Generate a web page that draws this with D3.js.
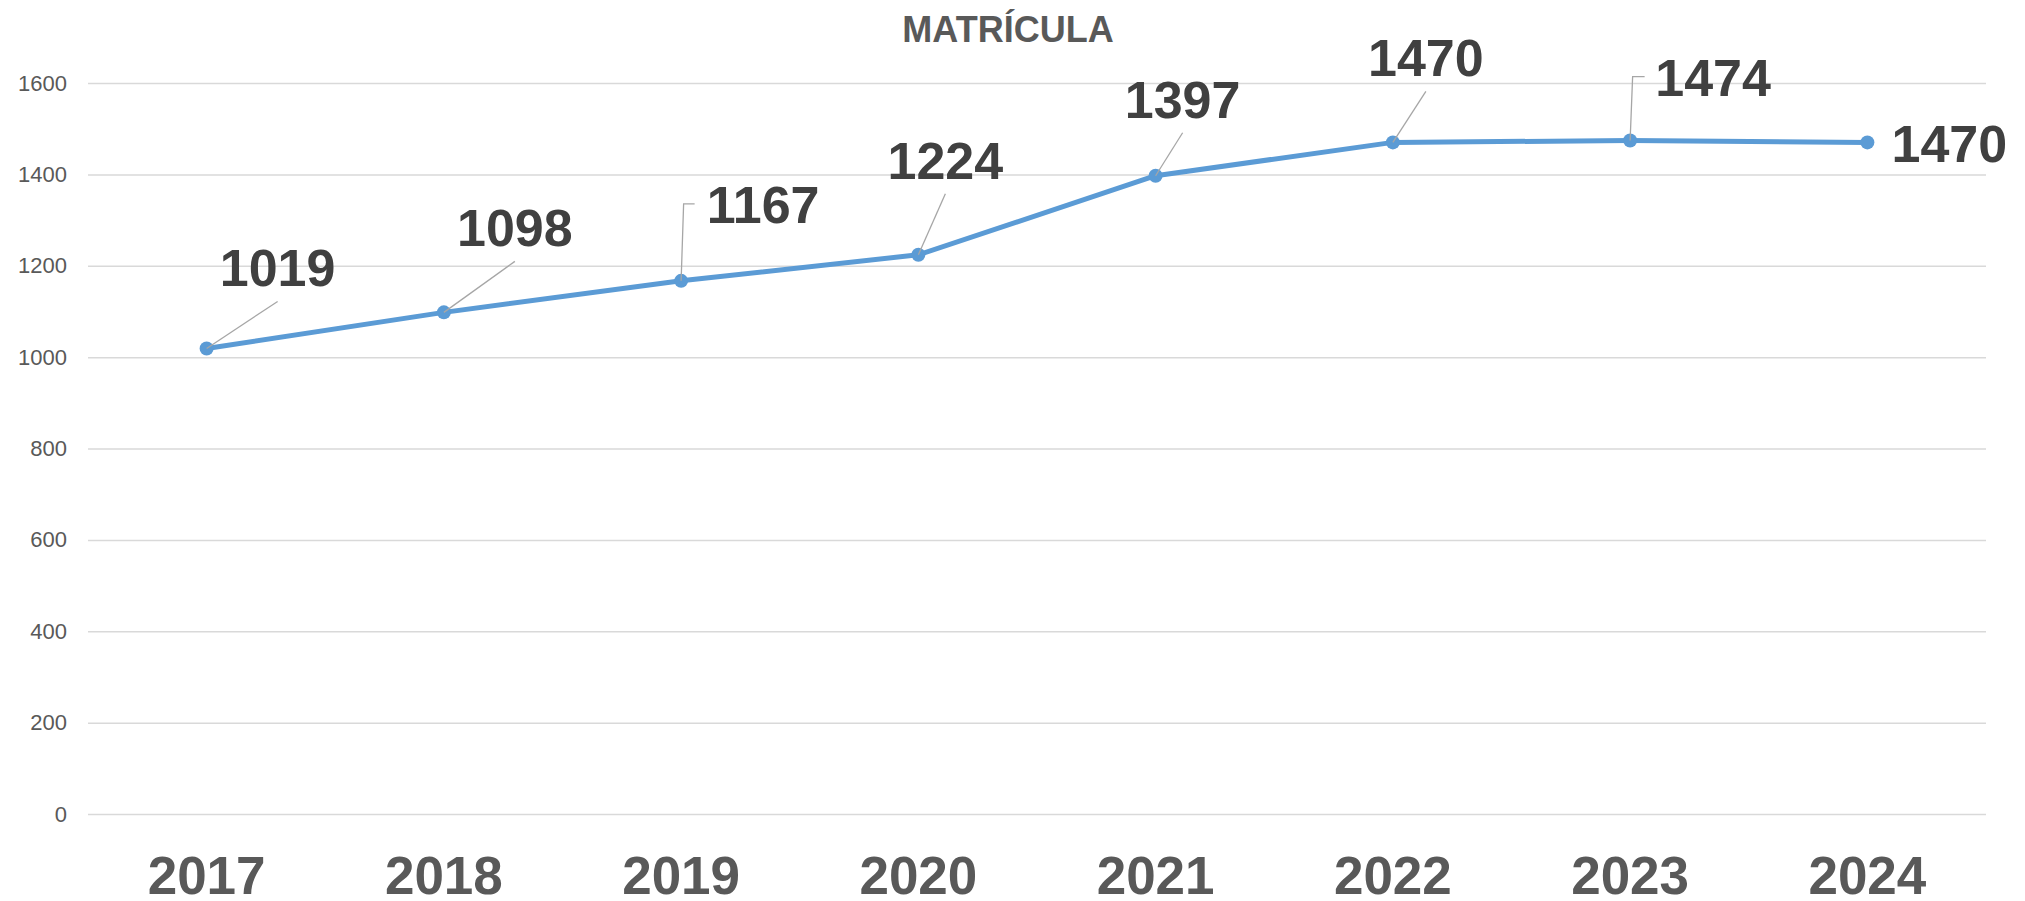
<!DOCTYPE html>
<html>
<head>
<meta charset="utf-8">
<script src="https://cdn.jsdelivr.net/npm/d3@7"></script>
<style>
  html, body { margin: 0; padding: 0; background: #fff; }
  svg { display: block; }
</style>
</head>
<body>
<div id="chart"></div>
<script>
const LINE_COLOR = "#5B9BD5";
const GRID_COLOR = "#D9D9D9";
const AXIS_TEXT = "#595959";
const LABEL_TEXT = "#404040";
const LEADER_COLOR = "#A6A6A6";

// data
const years = ["2017", "2018", "2019", "2020", "2021", "2022", "2023", "2024"];
const matricula = [1019, 1098, 1167, 1224, 1397, 1470, 1474, 1470];
const yTicks = [0, 200, 400, 600, 800, 1000, 1200, 1400, 1600];

// where excel put each data label, relative to its point (pixels)
// kind: "line" = straight leader, "elbow" = leader with a bend, "none"
const labelLayout = [
  { dx: 71, dy: -62, kind: "line" },
  { dx: 71, dy: -66, kind: "line" },
  { dx: 82, dy: -58, kind: "elbow" },
  { dx: 27, dy: -76, kind: "line" },
  { dx: 27, dy: -58, kind: "line" },
  { dx: 33, dy: -66, kind: "line" },
  { dx: 83, dy: -45, kind: "elbow" },
  { dx: 82, dy: 20, kind: "none" }
];

const width = 2025;
const height = 901;
const margin = { top: 83, right: 39, bottom: 87, left: 88 };

const svg = d3.select("#chart")
  .append("svg")
  .attr("width", width)
  .attr("height", height);

const x = d3.scaleBand()
  .domain(years)
  .range([margin.left, width - margin.right]);

const y = d3.scaleLinear()
  .domain([0, 1600])
  .range([height - margin.bottom, margin.top]);

const cx = (d, i) => x(years[i]) + x.bandwidth() / 2;
const cy = d => y(d);

// title
svg.append("text")
  .attr("x", 1008)
  .attr("y", 42)
  .attr("text-anchor", "middle")
  .attr("font-family", "Liberation Sans, Arial, sans-serif")
  .attr("font-weight", "bold")
  .attr("font-size", "36px")
  .attr("fill", AXIS_TEXT)
  .text("MATRÍCULA");

// gridlines + y labels
const yAxis = svg.append("g")
  .attr("transform", `translate(${margin.left},0)`)
  .call(d3.axisLeft(y)
    .tickValues(yTicks)
    .tickSize(-(width - margin.left - margin.right))
    .tickPadding(21)
    .tickFormat(d3.format("d")));

yAxis.select(".domain").remove();
yAxis.selectAll(".tick line")
  .attr("stroke", GRID_COLOR)
  .attr("stroke-width", 1.5);
yAxis.selectAll(".tick text")
  .attr("font-family", "Liberation Sans, Arial, sans-serif")
  .attr("font-size", "22px")
  .attr("fill", AXIS_TEXT);

// x labels
const xAxis = svg.append("g")
  .attr("transform", `translate(0,${height - margin.bottom})`)
  .call(d3.axisBottom(x).tickSize(0).tickPadding(0));

xAxis.select(".domain").remove();
xAxis.selectAll(".tick text")
  .attr("dy", null)
  .attr("y", 80)
  .attr("font-family", "Liberation Sans, Arial, sans-serif")
  .attr("font-weight", "bold")
  .attr("font-size", "53px")
  .attr("fill", AXIS_TEXT);

// line
const line = d3.line()
  .x((d, i) => cx(d, i))
  .y(d => cy(d));

svg.append("path")
  .datum(matricula)
  .attr("d", line)
  .attr("fill", "none")
  .attr("stroke", LINE_COLOR)
  .attr("stroke-width", 5)
  .attr("stroke-linejoin", "round");

svg.append("g")
  .selectAll("circle")
  .data(matricula)
  .join("circle")
  .attr("cx", (d, i) => cx(d, i))
  .attr("cy", d => cy(d))
  .attr("r", 7)
  .attr("fill", LINE_COLOR);

// leader lines
const labelWidth = 115;
const leaders = svg.append("g")
  .attr("fill", "none")
  .attr("stroke", LEADER_COLOR)
  .attr("stroke-width", 1.3);

matricula.forEach((d, i) => {
  const px = cx(d, i), py = cy(d);
  const lay = labelLayout[i];
  const tx = px + lay.dx, ty = py + lay.dy;
  if (lay.kind === "line") {
    leaders.append("line")
      .attr("x1", px).attr("y1", py)
      .attr("x2", tx).attr("y2", ty + 15);
  } else if (lay.kind === "elbow") {
    const midY = ty - 19;
    const left = tx - labelWidth / 2 - 11;
    leaders.append("path")
      .attr("d", `M${px},${py}L${px + 2.5},${midY}L${left},${midY}`);
  }
});

// data labels
svg.append("g")
  .selectAll("text")
  .data(matricula)
  .join("text")
  .attr("x", (d, i) => cx(d, i) + labelLayout[i].dx)
  .attr("y", (d, i) => cy(d) + labelLayout[i].dy)
  .attr("text-anchor", "middle")
  .attr("font-family", "Liberation Sans, Arial, sans-serif")
  .attr("font-weight", "bold")
  .attr("font-size", "52px")
  .attr("fill", LABEL_TEXT)
  .text(d => d);
</script>
</body>
</html>
